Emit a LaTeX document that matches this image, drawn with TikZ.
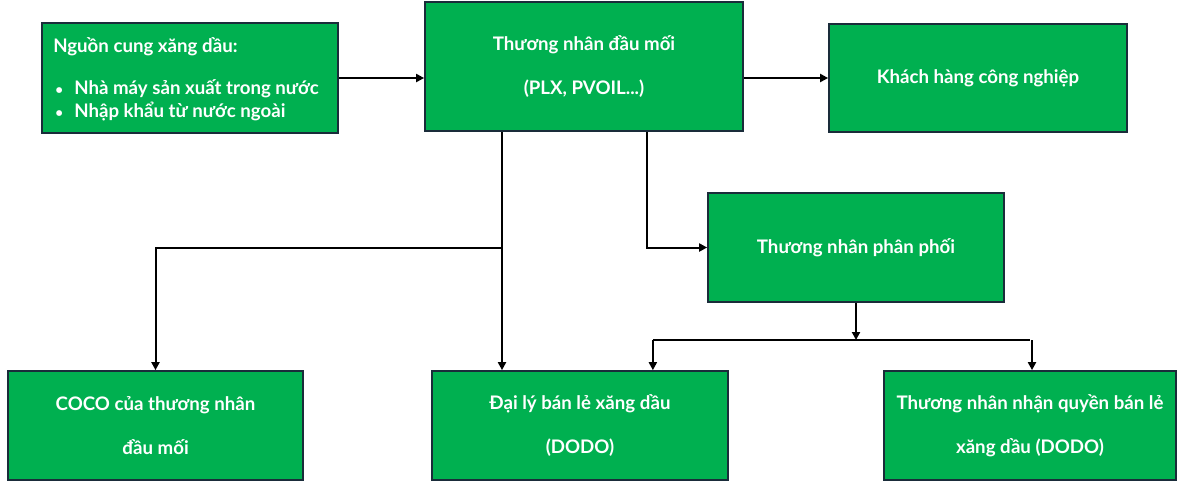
\documentclass[tikz,border=0pt]{standalone}
\usepackage{fontspec}
\setmainfont{Lato}
\usetikzlibrary{arrows.meta}
\definecolor{boxgreen}{RGB}{0,176,80}
\definecolor{boxedge}{RGB}{26,44,58}
\newcommand{\smallbul}{{\fontsize{10}{10}\selectfont\textbullet}}
\begin{document}
\begin{tikzpicture}[x=0.75pt,y=-0.75pt,
  box/.style={draw=boxedge,line width=1.3pt,fill=boxgreen,text=white,
    font=\bfseries\fontsize{14}{17}\selectfont,inner sep=0pt,align=center},
  txt/.style={text=white,font=\bfseries\fontsize{14}{17}\selectfont,inner sep=0pt},
  conn/.style={line width=1.5pt,-{Triangle[length=6pt,width=6pt]}},
  lin/.style={line width=1.5pt}]
\useasboundingbox (0,0) rectangle (1181,483);
% boxes
\node[box,minimum width=222pt,minimum height=82.5pt] (A) at (190,78) {};
\node[txt,anchor=west,align=left,font=\bfseries\fontsize{14}{17.25}\selectfont] (At) at (53,79)
  {Nguồn cung xăng dầu:\\[14.25pt]
   \makebox[15.75pt][l]{\hspace*{1.5pt}\smallbul}Nhà máy sản xuất trong nước\\
   \makebox[15.75pt][l]{\hspace*{1.5pt}\smallbul}Nhập khẩu từ nước ngoài};
\node[box,minimum width=238.5pt,minimum height=96.75pt] (B) at (584,66.5)
  {Thương nhân đầu mối\\[16pt](PLX, PVOIL...)};
\node[box,minimum width=223.5pt,minimum height=81pt] (C) at (978,78)
  {Khách hàng công nghiệp};
\node[box,minimum width=222pt,minimum height=81.75pt] (D) at (856,247.5)
  {Thương nhân phân phối};
\node[box,minimum width=221.25pt,minimum height=81.75pt] (E) at (155.5,425.5)
  {COCO của thương nhân\\[16pt]đầu mối};
\node[box,minimum width=222pt,minimum height=81.75pt] (F) at (580,425.5)
  {Đại lý bán lẻ xăng dầu\\[16pt](DODO)};
\node[box,minimum width=219pt,minimum height=81.75pt] (G) at (1030,425.5)
  {Thương nhân nhận quyền bán lẻ\\[16pt]xăng dầu (DODO)};
% connectors
\draw[conn] (A.east) -- (A.east -| B.west);
\draw[conn] (C.west -| B.east) -- (C.west);
\coordinate (b1) at ([xshift=-61.5pt]B.south);
\coordinate (b2) at ([xshift=47.25pt]B.south);
\coordinate (j1) at (b1 |- 0,248);
\draw[conn] (b1) -- (b1 |- F.north);
\draw[conn] (j1) -| (E.north);
\draw[conn] (b2) |- (D.west);
\coordinate (j2) at (D.south |- 0,340);
\draw[conn] (D.south) -- (j2);
\draw[lin] ([xshift=-0.75pt]j2 -| F.north east) ++(-56.25pt,0) coordinate (f2) -- (j2 -| G.north) ++(1.5pt,0) coordinate (g2);
\draw[conn] (f2) -- (f2 |- F.north);
\draw[conn] (g2) -- (g2 |- G.north);
\end{tikzpicture}
\end{document}
